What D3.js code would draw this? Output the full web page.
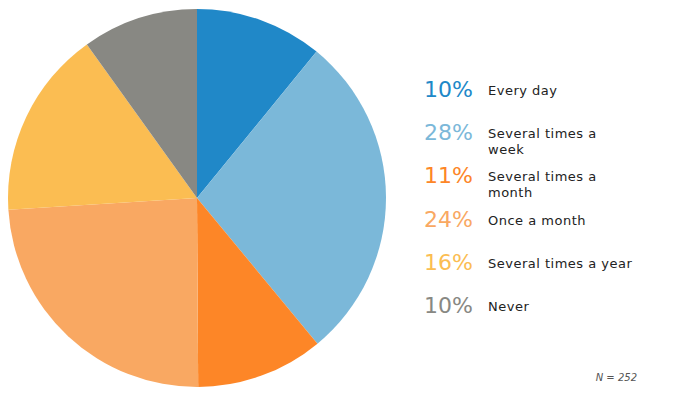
<!DOCTYPE html>
<html><head><meta charset="utf-8">
<script src="https://cdn.jsdelivr.net/npm/d3@7"></script>
<style>body{margin:0;background:#fff}svg{display:block}</style>
</head><body>
<script>
const categories = ["Every day","Several times a week","Several times a month","Once a month","Several times a year","Never"];
const labelLines = [["Every day"],["Several times a","week"],["Several times a","month"],["Once a month"],["Several times a year"],["Never"]];
const values = [10.9, 28.1, 10.9, 24.1, 16.1, 9.9];
const pctLabels = ["10%","28%","11%","24%","16%","10%"];
const colors = ["#2088c8","#7bb8d9","#fd8627","#f9a862","#fbbd52","#888883"];
const note = "N = 252";

const W = 675, H = 407;
const svg = d3.select("body").append("svg").attr("width", W).attr("height", H);

const cx = 197, cy = 198, R = 189;
const pie = d3.pie().value(d => d).sort(null);
const arc = d3.arc().innerRadius(0).outerRadius(R);
svg.append("g").attr("transform", `translate(${cx},${cy})`)
  .selectAll("path").data(pie(values)).join("path")
  .attr("d", arc).attr("fill", (d,i) => colors[i]);

const y = d3.scalePoint().domain(categories).range([97, 313]);
const lg = svg.append("g").style("font-family", "Verdana, 'DejaVu Sans', sans-serif");
categories.forEach((c, i) => {
  lg.append("text").attr("x", 424).attr("y", y(c))
    .attr("font-size", 22).attr("fill", colors[i]).text(pctLabels[i]);
  const t = lg.append("text").attr("x", 488).attr("y", y(c) - 2)
    .attr("font-size", 13).attr("letter-spacing", 0.5).attr("fill", "#222");
  labelLines[i].forEach((l, j) => {
    t.append("tspan").attr("x", 488).attr("dy", j ? 16 : 0).text(l);
  });
});
svg.append("text").attr("x", 637).attr("y", 381).attr("text-anchor", "end")
  .attr("font-size", 10).attr("font-style", "italic").attr("fill", "#555")
  .style("font-family", "Verdana, 'DejaVu Sans', sans-serif").text(note);
</script>
</body></html>
